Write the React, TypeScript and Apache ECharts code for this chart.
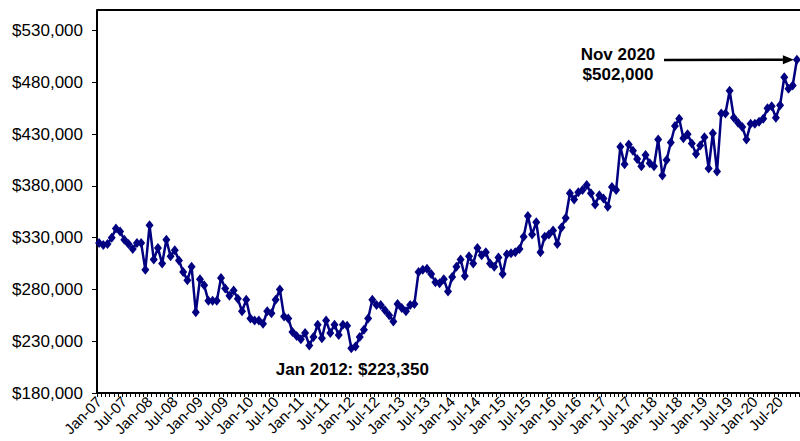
import React, { useEffect, useRef } from "react";
import * as echarts from "echarts";

// Monthly median price values, Jan 2007 .. Nov 2020
const prices2007: number[] = [325000, 323000, 324000, 330000, 339000, 336000, 328000, 324000, 319000, 325000, 325000, 299000];
const prices2008: number[] = [342000, 309000, 320000, 305000, 328000, 312000, 318000, 308000, 297000, 289000, 302000, 258000];
const prices2009: number[] = [290000, 284000, 269000, 269000, 269000, 291000, 281000, 274000, 279000, 271000, 259000, 270000];
const prices2010: number[] = [252000, 250000, 250000, 247000, 259000, 257000, 270000, 280000, 254000, 252000, 239000, 235000];
const prices2011: number[] = [232000, 238000, 226000, 234000, 246000, 233000, 250000, 238000, 246000, 236000, 246000, 245000];
const prices2012: number[] = [223350, 225000, 234000, 241000, 252000, 270000, 265000, 265000, 260000, 255000, 249000, 266000];
const prices2013: number[] = [262000, 259000, 265000, 266000, 297000, 299000, 300000, 295000, 287000, 286000, 290000, 278000];
const prices2014: number[] = [292000, 302000, 309000, 293000, 312000, 305000, 320000, 313000, 316000, 305000, 302000, 311000];
const prices2015: number[] = [295000, 314000, 315000, 316000, 319000, 331000, 351000, 333000, 345000, 316000, 331000, 333000];
const prices2016: number[] = [337000, 324000, 340000, 349000, 373000, 367000, 374000, 376000, 381000, 373000, 362000, 371000];
const prices2017: number[] = [368000, 360000, 379000, 376000, 418000, 401000, 420000, 414000, 406000, 399000, 410000, 402000];
const prices2018: number[] = [399000, 425000, 390000, 405000, 422000, 438000, 445000, 426000, 430000, 421000, 411000, 419000];
const prices2019: number[] = [427000, 397000, 431000, 394000, 450000, 450000, 472000, 446000, 441000, 437000, 425000, 440000];
const prices2020: number[] = [440000, 442000, 445000, 455000, 457000, 446000, 458000, 485000, 474000, 477000, 502000];

const values: number[] = [
  ...prices2007, ...prices2008, ...prices2009, ...prices2010, ...prices2011,
  ...prices2012, ...prices2013, ...prices2014, ...prices2015, ...prices2016,
  ...prices2017, ...prices2018, ...prices2019, ...prices2020,
];

const monthNames: string[] = ["Jan", "Feb", "Mar", "Apr", "May", "Jun", "Jul", "Aug", "Sep", "Oct", "Nov", "Dec"];
const startYear = 2007;
const categories: string[] = values.map((_, i) => {
  const y = startYear + Math.floor(i / 12);
  return monthNames[i % 12] + "-" + String(y % 100).padStart(2, "0");
});

const yTicks: number[] = [180000, 230000, 280000, 330000, 380000, 430000, 480000, 530000];

const minLabel = "Jan 2012: $223,350";
const maxLabelLines = ["Nov 2020", "$502,000"];

const FONT = "'Liberation Sans', Arial, sans-serif";
const NAVY = "#000080";

export default function App() {
  const ref = useRef<HTMLDivElement>(null);
  useEffect(() => {
    if (!ref.current) return;
    const chart = echarts.init(ref.current, undefined, { renderer: "svg" });
    chart.setOption({
      animation: false,
      backgroundColor: "#ffffff",
      grid: { left: 97, right: 1, top: 10, bottom: 48, containLabel: false },
      xAxis: {
        type: "category",
        data: categories,
        boundaryGap: true,
        axisLine: { show: true, lineStyle: { color: "#000", width: 2 } },
        axisTick: { show: true, interval: 0, length: 4, lineStyle: { color: "#000", width: 1 } },
        axisLabel: {
          interval: 5,
          rotate: 45,
          fontFamily: FONT,
          fontSize: 15,
          color: "#000",
          margin: 6,
          hideOverlap: false,
        },
        splitLine: { show: false },
      },
      yAxis: {
        type: "value",
        min: 180000,
        max: 550000,
        interval: 50000,
        axisLine: { show: true, lineStyle: { color: "#000", width: 2 } },
        axisTick: { show: true, length: 5, customValues: yTicks, lineStyle: { color: "#000", width: 1 } },
        axisLabel: {
          customValues: yTicks,
          fontFamily: FONT,
          fontSize: 17,
          color: "#000",
          margin: 14,
          formatter: (v: number) => "$" + v.toLocaleString("en-US"),
        },
        splitLine: { show: false },
      },
      series: [
        {
          type: "line",
          data: values,
          symbol: "diamond",
          symbolSize: [8, 10],
          showAllSymbol: true,
          lineStyle: { color: NAVY, width: 2.5 },
          itemStyle: { color: NAVY },
        },
      ],
    });

    const minIdx = values.indexOf(Math.min(...values));
    const lastIdx = values.length - 1;
    const pMin = chart.convertToPixel({ xAxisIndex: 0, yAxisIndex: 0 }, [minIdx, values[minIdx]]) as number[];
    const pLast = chart.convertToPixel({ xAxisIndex: 0, yAxisIndex: 0 }, [lastIdx, values[lastIdx]]) as number[];
    const ax = pLast[0] - 3;
    const ay = pLast[1];
    const sx = 664;
    const sy = 60;
    const dx = ax - sx;
    const dy = ay - sy;
    const len = Math.sqrt(dx * dx + dy * dy);
    const ux = dx / len;
    const uy = dy / len;
    const hl = 11;
    const hw = 4.5;
    const bx = ax - ux * hl;
    const by = ay - uy * hl;

    chart.setOption({
      graphic: [
        {
          type: "line",
          shape: { x1: 97, y1: 10, x2: 800, y2: 10 },
          style: { stroke: "#000", lineWidth: 2 },
          z: 10,
        },
        {
          type: "text",
          x: pMin[0] + 1,
          y: pMin[1] + 21,
          style: {
            text: minLabel,
            font: "bold 17px " + FONT,
            fill: "#000",
            align: "center",
            verticalAlign: "middle",
          },
          z: 10,
        },
        {
          type: "text",
          x: 618,
          y: 64,
          style: {
            text: maxLabelLines.join("\n"),
            font: "bold 17px " + FONT,
            fill: "#000",
            align: "center",
            verticalAlign: "middle",
            lineHeight: 20,
          },
          z: 10,
        },
        {
          type: "line",
          shape: { x1: sx, y1: sy, x2: bx, y2: by },
          style: { stroke: "#000", lineWidth: 2.5 },
          z: 10,
        },
        {
          type: "polygon",
          shape: {
            points: [
              [ax, ay],
              [bx - uy * hw, by + ux * hw],
              [bx + uy * hw, by - ux * hw],
            ],
          },
          style: { fill: "#000" },
          z: 10,
        },
      ],
    });

    return () => chart.dispose();
  }, []);
  return (
    <div
      ref={ref}
      style={{ position: "fixed", left: 0, top: 0, width: 800, height: 441 }}
    />
  );
}
